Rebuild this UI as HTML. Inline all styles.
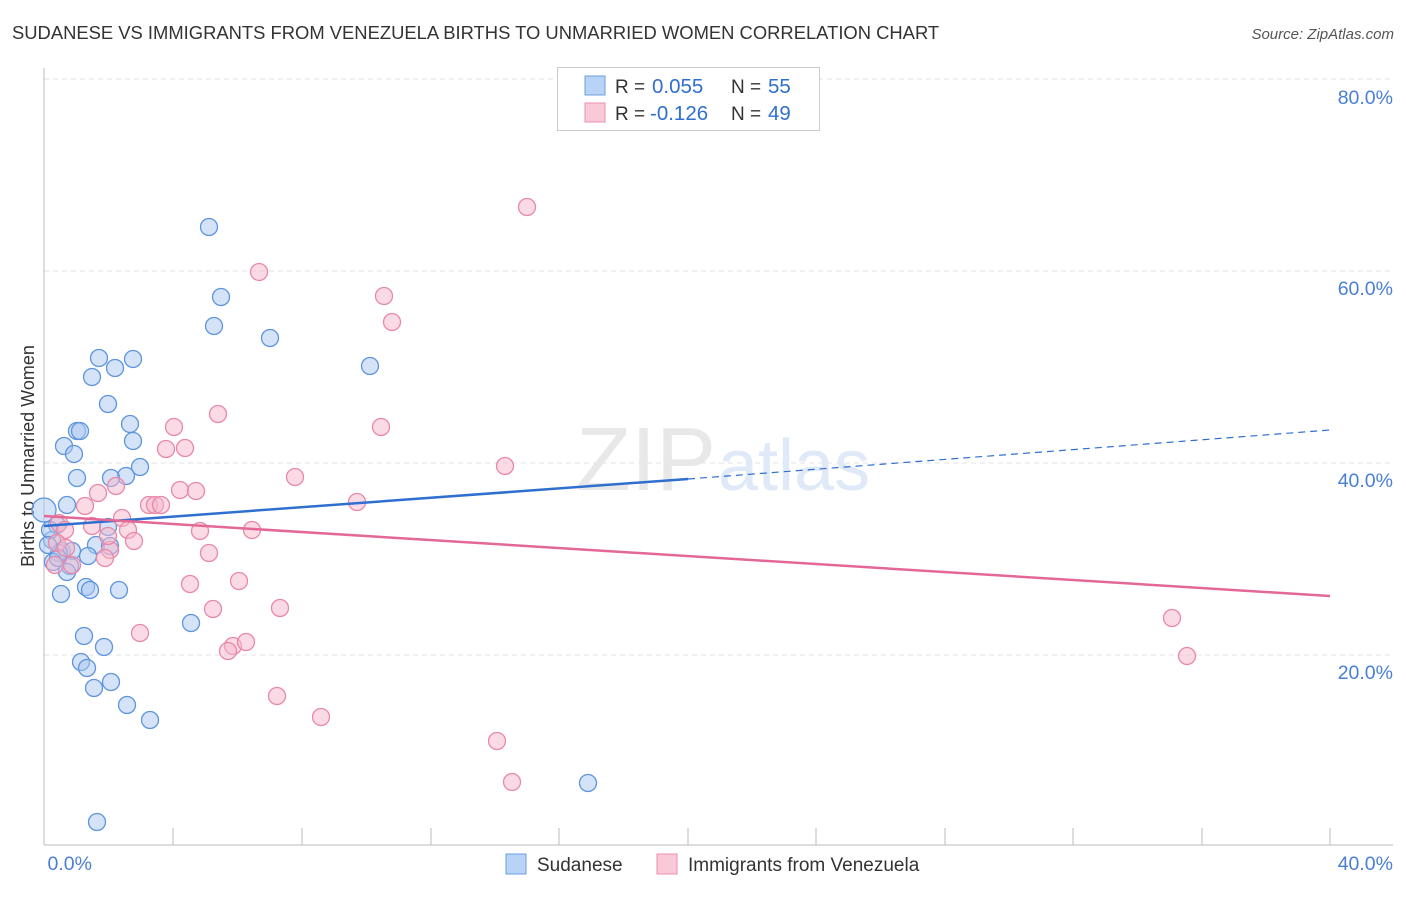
<!DOCTYPE html>
<html><head><meta charset="utf-8"><style>
body{margin:0;background:#fff;font-family:"Liberation Sans",sans-serif}
svg text{font-family:"Liberation Sans",sans-serif}
</style></head><body>
<svg width="1406" height="892" xmlns="http://www.w3.org/2000/svg">
<text x="12" y="39" font-size="18.4" fill="#333">SUDANESE VS IMMIGRANTS FROM VENEZUELA BIRTHS TO UNMARRIED WOMEN CORRELATION CHART</text>
<text x="1394" y="39" font-size="15" fill="#555" text-anchor="end" font-style="italic">Source: ZipAtlas.com</text>
<g stroke="#e3e3e3" stroke-dasharray="5,4">
<line x1="44" y1="79" x2="1393" y2="79"/><line x1="44" y1="271" x2="1393" y2="271"/><line x1="44" y1="463" x2="1393" y2="463"/><line x1="44" y1="655" x2="1393" y2="655"/>
</g>
<line x1="44" y1="68" x2="44" y2="845" stroke="#bbb"/>
<line x1="44" y1="845" x2="1393" y2="845" stroke="#bbb"/>
<g stroke="#bbb">
<line x1="173" y1="828" x2="173" y2="845"/><line x1="302" y1="828" x2="302" y2="845"/><line x1="431" y1="828" x2="431" y2="845"/><line x1="559" y1="828" x2="559" y2="845"/><line x1="688" y1="828" x2="688" y2="845"/><line x1="816" y1="828" x2="816" y2="845"/><line x1="945" y1="828" x2="945" y2="845"/><line x1="1073" y1="828" x2="1073" y2="845"/><line x1="1202" y1="828" x2="1202" y2="845"/><line x1="1330" y1="828" x2="1330" y2="845"/>
</g>
<g font-size="19.5" fill="#4a7fd4" text-anchor="end">
<text x="1393" y="104">80.0%</text><text x="1393" y="295">60.0%</text><text x="1393" y="487">40.0%</text><text x="1393" y="679">20.0%</text>
<text x="92" y="870">0.0%</text><text x="1393" y="870">40.0%</text>
</g>
<text transform="translate(34,456) rotate(-90)" font-size="18" fill="#333" text-anchor="middle">Births to Unmarried Women</text>
<text x="716" y="490" font-size="90" fill="#e8e8e8" text-anchor="end" font-family="Liberation Serif">ZIP</text>
<text x="718" y="490" font-size="72" fill="#dfe9f7">atlas</text>
<g fill="#a9c8f0" fill-opacity="0.5" stroke="#5e95de" stroke-width="1.3">
<circle cx="44" cy="510" r="12"/>
<circle cx="209" cy="227" r="8.5"/><circle cx="221" cy="297" r="8.5"/><circle cx="214" cy="326" r="8.5"/><circle cx="270" cy="338" r="8.5"/><circle cx="370" cy="366" r="8.5"/><circle cx="99" cy="358" r="8.5"/><circle cx="133" cy="359" r="8.5"/><circle cx="115" cy="368" r="8.5"/><circle cx="92" cy="377" r="8.5"/><circle cx="108" cy="404" r="8.5"/><circle cx="130" cy="424" r="8.5"/><circle cx="77" cy="431" r="8.5"/><circle cx="80" cy="431" r="8.5"/><circle cx="133" cy="441" r="8.5"/><circle cx="64" cy="446" r="8.5"/><circle cx="74" cy="454" r="8.5"/><circle cx="140" cy="467" r="8.5"/><circle cx="126" cy="476" r="8.5"/><circle cx="111" cy="478" r="8.5"/><circle cx="77" cy="478" r="8.5"/><circle cx="67" cy="505" r="8.5"/><circle cx="108" cy="527" r="8.5"/><circle cx="57" cy="525" r="8.5"/><circle cx="52" cy="540" r="8.5"/><circle cx="96" cy="545" r="8.5"/><circle cx="110" cy="546" r="8.5"/><circle cx="62" cy="551" r="8.5"/><circle cx="72" cy="551" r="8.5"/><circle cx="59" cy="553" r="8.5"/><circle cx="88" cy="556" r="8.5"/><circle cx="53" cy="562" r="8.5"/><circle cx="70" cy="566" r="8.5"/><circle cx="67" cy="572" r="8.5"/><circle cx="86" cy="587" r="8.5"/><circle cx="90" cy="590" r="8.5"/><circle cx="119" cy="590" r="8.5"/><circle cx="61" cy="594" r="8.5"/><circle cx="191" cy="623" r="8.5"/><circle cx="84" cy="636" r="8.5"/><circle cx="104" cy="647" r="8.5"/><circle cx="81" cy="662" r="8.5"/><circle cx="87" cy="668" r="8.5"/><circle cx="111" cy="682" r="8.5"/><circle cx="94" cy="688" r="8.5"/><circle cx="127" cy="705" r="8.5"/><circle cx="150" cy="720" r="8.5"/><circle cx="588" cy="783" r="8.5"/><circle cx="97" cy="822" r="8.5"/><circle cx="50" cy="530" r="8.5"/><circle cx="58" cy="558" r="8.5"/><circle cx="48" cy="545" r="8.5"/>
</g>
<g fill="#f5b8cb" fill-opacity="0.5" stroke="#e889a8" stroke-width="1.3">
<circle cx="527" cy="207" r="8.5"/><circle cx="259" cy="272" r="8.5"/><circle cx="384" cy="296" r="8.5"/><circle cx="392" cy="322" r="8.5"/><circle cx="218" cy="414" r="8.5"/><circle cx="174" cy="427" r="8.5"/><circle cx="381" cy="427" r="8.5"/><circle cx="166" cy="449" r="8.5"/><circle cx="185" cy="448" r="8.5"/><circle cx="505" cy="466" r="8.5"/><circle cx="295" cy="477" r="8.5"/><circle cx="116" cy="486" r="8.5"/><circle cx="98" cy="493" r="8.5"/><circle cx="180" cy="490" r="8.5"/><circle cx="196" cy="491" r="8.5"/><circle cx="357" cy="502" r="8.5"/><circle cx="149" cy="505" r="8.5"/><circle cx="155" cy="505" r="8.5"/><circle cx="161" cy="505" r="8.5"/><circle cx="85" cy="506" r="8.5"/><circle cx="59" cy="523" r="8.5"/><circle cx="122" cy="518" r="8.5"/><circle cx="92" cy="526" r="8.5"/><circle cx="65" cy="530" r="8.5"/><circle cx="200" cy="531" r="8.5"/><circle cx="252" cy="530" r="8.5"/><circle cx="128" cy="530" r="8.5"/><circle cx="134" cy="541" r="8.5"/><circle cx="57" cy="543" r="8.5"/><circle cx="110" cy="550" r="8.5"/><circle cx="105" cy="558" r="8.5"/><circle cx="209" cy="553" r="8.5"/><circle cx="72" cy="565" r="8.5"/><circle cx="55" cy="565" r="8.5"/><circle cx="190" cy="584" r="8.5"/><circle cx="239" cy="581" r="8.5"/><circle cx="213" cy="609" r="8.5"/><circle cx="280" cy="608" r="8.5"/><circle cx="140" cy="633" r="8.5"/><circle cx="233" cy="646" r="8.5"/><circle cx="228" cy="651" r="8.5"/><circle cx="246" cy="642" r="8.5"/><circle cx="277" cy="696" r="8.5"/><circle cx="321" cy="717" r="8.5"/><circle cx="497" cy="741" r="8.5"/><circle cx="512" cy="782" r="8.5"/><circle cx="1172" cy="618" r="8.5"/><circle cx="1187" cy="656" r="8.5"/><circle cx="66" cy="548" r="8.5"/><circle cx="108" cy="536" r="8.5"/>
</g>
<line x1="44" y1="526" x2="688" y2="479" stroke="#2f6fd0" stroke-width="2.5"/>
<line x1="688" y1="479" x2="1330" y2="430" stroke="#2f6fd0" stroke-width="1.2" stroke-dasharray="7,5"/>
<line x1="44" y1="516" x2="1330" y2="596" stroke="#e46896" stroke-width="2.5"/>
<rect x="557.5" y="67.5" width="262" height="63" fill="#fff" stroke="#ccc"/>
<rect x="585" y="76" width="20" height="19" fill="#b8d3f5" stroke="#6a9fe0"/>
<rect x="585" y="103" width="20" height="19" fill="#f9c9d8" stroke="#eb90ae"/>
<g font-size="19">
<text x="615" y="93" fill="#333">R = </text><text x="652" y="93" fill="#2f6fd0" font-size="20.5">0.055</text><text x="731" y="93" fill="#333">N = </text><text x="768" y="93" fill="#2f6fd0" font-size="20.5">55</text>
<text x="615" y="120" fill="#333">R = </text><text x="650" y="120" fill="#2f6fd0" font-size="20.5">-0.126</text><text x="731" y="120" fill="#333">N = </text><text x="768" y="120" fill="#2f6fd0" font-size="20.5">49</text>
</g>
<rect x="506" y="854" width="20" height="20" fill="#b8d3f5" stroke="#6a9fe0"/>
<text x="537" y="871" font-size="19" fill="#333">Sudanese</text>
<rect x="657" y="854" width="20" height="20" fill="#f9c9d8" stroke="#eb90ae"/>
<text x="688" y="871" font-size="19" fill="#333">Immigrants from Venezuela</text>
</svg>
</body></html>
